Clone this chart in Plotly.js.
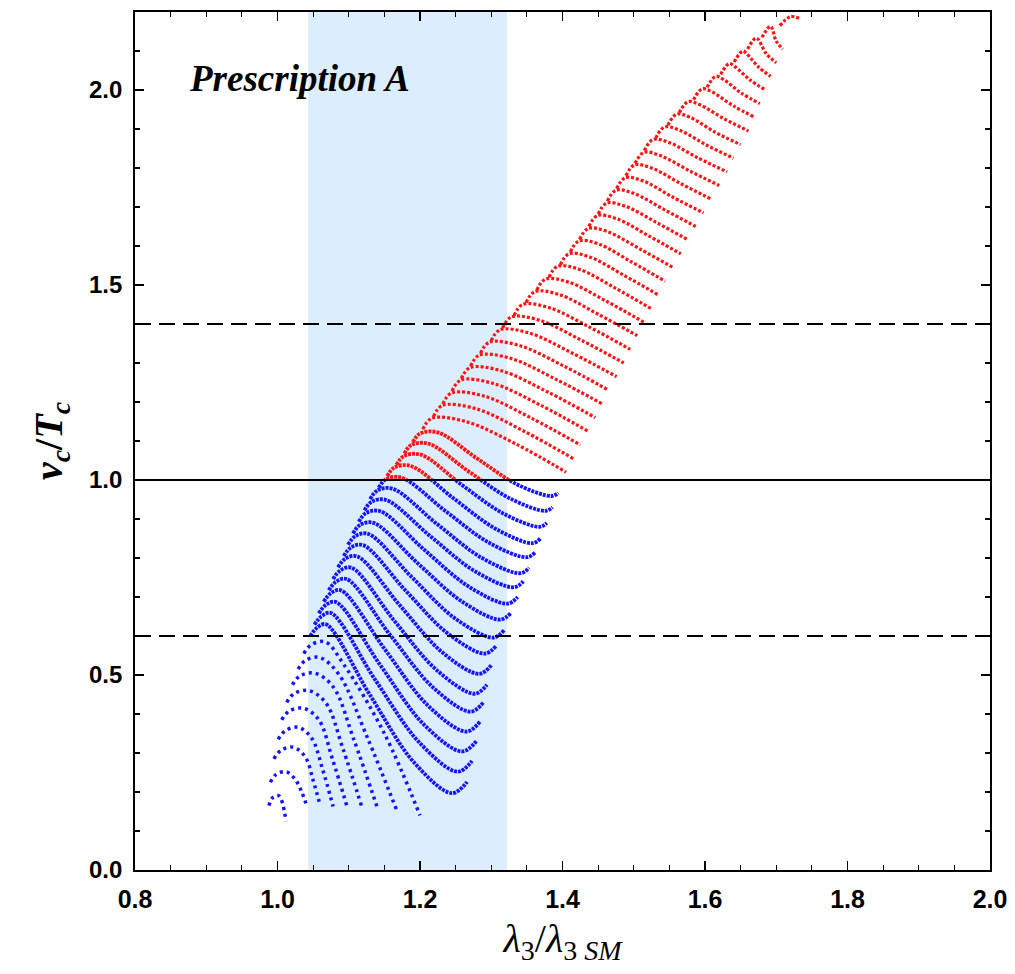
<!DOCTYPE html>
<html>
<head>
<meta charset="utf-8">
<script src="https://cdn.plot.ly/plotly-3.0.1.min.js"></script>
<style>
  html, body { margin: 0; padding: 0; background: #ffffff; }
  #chart { width: 1015px; height: 974px; }
</style>
</head>
<body>
<div id="chart"></div>
<script>
// Axis ticks and labels
const xTickVals = [0.8, 1.0, 1.2, 1.4, 1.6, 1.8, 2.0];
const xTickText = ['0.8', '1.0', '1.2', '1.4', '1.6', '1.8', '2.0'];
const xMinorVals = [0.85, 0.9, 0.95, 1.05, 1.1, 1.15, 1.25, 1.3, 1.35, 1.45, 1.5, 1.55,
                    1.65, 1.7, 1.75, 1.85, 1.9, 1.95];
const yTickVals = [0.0, 0.5, 1.0, 1.5, 2.0];
const yTickText = ['0.0', '0.5', '1.0', '1.5', '2.0'];
const yMinorVals = [0.1, 0.2, 0.3, 0.4, 0.6, 0.7, 0.8, 0.9, 1.1, 1.2, 1.3, 1.4,
                    1.6, 1.7, 1.8, 1.9, 2.1];

// Reference levels and the shaded lambda_3 window
const dashedLevels = [0.6, 1.4];
const solidLevel = 1.0;
const bandX = [1.043, 1.322];

// Scan curves, upper family (start on the left edge, end on the right edge)
const upperX = [
  [1.204, 1.216, 1.264, 1.335, 1.405],
  [1.219, 1.231, 1.278, 1.346, 1.415],
  [1.232, 1.244, 1.290, 1.357, 1.425],
  [1.245, 1.257, 1.302, 1.369, 1.436],
  [1.258, 1.270, 1.314, 1.380, 1.446],
  [1.271, 1.283, 1.327, 1.391, 1.456],
  [1.285, 1.297, 1.339, 1.402, 1.465],
  [1.300, 1.312, 1.353, 1.414, 1.476],
  [1.316, 1.328, 1.367, 1.427, 1.486],
  [1.332, 1.344, 1.381, 1.438, 1.495],
  [1.349, 1.361, 1.396, 1.450, 1.505],
  [1.364, 1.376, 1.409, 1.462, 1.514],
  [1.381, 1.393, 1.424, 1.474, 1.524],
  [1.397, 1.409, 1.438, 1.486, 1.534],
  [1.411, 1.423, 1.451, 1.497, 1.544],
  [1.424, 1.436, 1.463, 1.509, 1.555],
  [1.437, 1.449, 1.476, 1.521, 1.566],
  [1.450, 1.462, 1.488, 1.533, 1.577],
  [1.463, 1.475, 1.500, 1.544, 1.587],
  [1.476, 1.488, 1.513, 1.555, 1.598],
  [1.489, 1.501, 1.525, 1.567, 1.609],
  [1.502, 1.514, 1.537, 1.579, 1.620],
  [1.515, 1.527, 1.550, 1.590, 1.631],
  [1.531, 1.543, 1.564, 1.602, 1.640],
  [1.548, 1.560, 1.579, 1.614, 1.650],
  [1.564, 1.576, 1.593, 1.627, 1.661],
  [1.584, 1.596, 1.610, 1.640, 1.670],
  [1.603, 1.615, 1.626, 1.651, 1.677],
  [1.622, 1.634, 1.642, 1.663, 1.685],
  [1.641, 1.653, 1.659, 1.675, 1.692],
  [1.660, 1.672, 1.686, 1.700],
  [1.680, 1.692, 1.700, 1.709],
  [1.705, 1.720, 1.733]
];
const upperY = [
  [1.130, 1.158, 1.150, 1.092, 1.020],
  [1.163, 1.191, 1.183, 1.125, 1.055],
  [1.195, 1.223, 1.215, 1.158, 1.090],
  [1.228, 1.256, 1.248, 1.192, 1.125],
  [1.260, 1.288, 1.280, 1.225, 1.160],
  [1.292, 1.320, 1.312, 1.258, 1.195],
  [1.325, 1.353, 1.345, 1.292, 1.230],
  [1.357, 1.385, 1.377, 1.325, 1.265],
  [1.390, 1.418, 1.410, 1.358, 1.300],
  [1.422, 1.450, 1.442, 1.392, 1.335],
  [1.455, 1.483, 1.475, 1.425, 1.370],
  [1.487, 1.515, 1.507, 1.458, 1.405],
  [1.520, 1.548, 1.540, 1.492, 1.440],
  [1.552, 1.580, 1.572, 1.525, 1.475],
  [1.585, 1.613, 1.605, 1.559, 1.510],
  [1.617, 1.645, 1.637, 1.592, 1.545],
  [1.650, 1.678, 1.670, 1.626, 1.580],
  [1.682, 1.710, 1.702, 1.659, 1.615],
  [1.715, 1.743, 1.735, 1.692, 1.650],
  [1.747, 1.775, 1.767, 1.725, 1.685],
  [1.780, 1.808, 1.800, 1.759, 1.720],
  [1.812, 1.840, 1.832, 1.792, 1.755],
  [1.845, 1.873, 1.865, 1.826, 1.790],
  [1.877, 1.905, 1.897, 1.859, 1.825],
  [1.910, 1.938, 1.930, 1.892, 1.860],
  [1.942, 1.970, 1.962, 1.926, 1.895],
  [1.975, 2.003, 1.995, 1.959, 1.930],
  [2.007, 2.035, 2.027, 1.992, 1.965],
  [2.040, 2.068, 2.060, 2.026, 2.000],
  [2.072, 2.100, 2.092, 2.059, 2.035],
  [2.105, 2.133, 2.093, 2.070],
  [2.135, 2.163, 2.125, 2.105],
  [2.165, 2.188, 2.183]
];

// Middle family: arches that fall diagonally and finish with a small hook
const hookX = [
  [1.190, 1.200, 1.225, 1.281, 1.337, 1.385, 1.394],
  [1.178, 1.188, 1.212, 1.269, 1.327, 1.376, 1.386],
  [1.167, 1.177, 1.201, 1.259, 1.318, 1.368, 1.378],
  [1.154, 1.164, 1.187, 1.247, 1.307, 1.358, 1.369],
  [1.142, 1.152, 1.174, 1.236, 1.297, 1.350, 1.362],
  [1.130, 1.140, 1.161, 1.224, 1.287, 1.341, 1.353],
  [1.122, 1.132, 1.152, 1.215, 1.278, 1.332, 1.345],
  [1.114, 1.124, 1.144, 1.206, 1.269, 1.323, 1.337],
  [1.106, 1.116, 1.135, 1.197, 1.260, 1.313, 1.328],
  [1.099, 1.109, 1.127, 1.189, 1.250, 1.303, 1.318],
  [1.093, 1.103, 1.120, 1.180, 1.240, 1.291, 1.307],
  [1.085, 1.095, 1.112, 1.172, 1.232, 1.283, 1.300],
  [1.078, 1.088, 1.104, 1.164, 1.225, 1.277, 1.294],
  [1.072, 1.082, 1.097, 1.158, 1.219, 1.271, 1.289],
  [1.065, 1.075, 1.089, 1.151, 1.212, 1.265, 1.284],
  [1.058, 1.068, 1.082, 1.144, 1.206, 1.259, 1.279],
  [1.052, 1.062, 1.075, 1.137, 1.200, 1.253, 1.273],
  [1.046, 1.056, 1.068, 1.130, 1.192, 1.245, 1.266]
];
const hookY = [
  [1.097, 1.119, 1.122, 1.054, 0.988, 0.959, 0.967],
  [1.068, 1.090, 1.093, 1.021, 0.952, 0.921, 0.930],
  [1.039, 1.061, 1.065, 0.987, 0.913, 0.880, 0.890],
  [1.010, 1.032, 1.036, 0.953, 0.874, 0.838, 0.850],
  [0.980, 1.002, 1.006, 0.920, 0.839, 0.802, 0.815],
  [0.951, 0.973, 0.978, 0.887, 0.800, 0.761, 0.775],
  [0.922, 0.944, 0.949, 0.855, 0.765, 0.725, 0.740],
  [0.893, 0.915, 0.920, 0.821, 0.726, 0.683, 0.700],
  [0.863, 0.885, 0.890, 0.786, 0.687, 0.642, 0.660],
  [0.834, 0.856, 0.862, 0.750, 0.644, 0.596, 0.615],
  [0.805, 0.827, 0.833, 0.716, 0.605, 0.555, 0.575],
  [0.776, 0.798, 0.804, 0.678, 0.557, 0.503, 0.525],
  [0.746, 0.768, 0.775, 0.639, 0.510, 0.452, 0.475],
  [0.717, 0.739, 0.746, 0.603, 0.467, 0.406, 0.430],
  [0.688, 0.710, 0.717, 0.565, 0.420, 0.355, 0.380],
  [0.658, 0.680, 0.687, 0.526, 0.372, 0.304, 0.330],
  [0.629, 0.651, 0.659, 0.488, 0.325, 0.252, 0.280],
  [0.600, 0.622, 0.630, 0.448, 0.275, 0.197, 0.226]
];

// Lower family: small arches that drop steeply to the bottom edge
const lowX = [
  [0.988, 0.993, 1.002, 1.012],
  [0.990, 0.998, 1.012, 1.025, 1.034, 1.041],
  [0.995, 1.005, 1.022, 1.039, 1.050, 1.060],
  [1.001, 1.011, 1.029, 1.048, 1.063, 1.078],
  [1.006, 1.016, 1.036, 1.058, 1.077, 1.098],
  [1.013, 1.023, 1.044, 1.068, 1.092, 1.119],
  [1.021, 1.031, 1.052, 1.078, 1.107, 1.141],
  [1.029, 1.039, 1.059, 1.086, 1.126, 1.168],
  [1.037, 1.047, 1.067, 1.093, 1.150, 1.200]
];
const lowY = [
  [0.165, 0.185, 0.190, 0.125],
  [0.225, 0.245, 0.252, 0.232, 0.200, 0.165],
  [0.285, 0.307, 0.315, 0.290, 0.230, 0.165],
  [0.335, 0.357, 0.366, 0.338, 0.260, 0.163],
  [0.385, 0.407, 0.415, 0.385, 0.285, 0.160],
  [0.430, 0.452, 0.460, 0.428, 0.310, 0.158],
  [0.475, 0.497, 0.505, 0.470, 0.335, 0.155],
  [0.515, 0.537, 0.545, 0.502, 0.340, 0.150],
  [0.555, 0.577, 0.585, 0.527, 0.350, 0.140]
];

const BLUE = 'rgb(20,20,255)';
const RED = 'rgb(255,20,20)';
const Y_TOP = 2.2;
const SPLIT = solidLevel / Y_TOP;   // fraction of the height where blue turns red

// Every curve is drawn on two stacked subplots sharing one scale:
// the lower one (y2, 0..1) clips it in blue, the upper one (y3, 1..2.2) in red.
function curveTraces(cx, cy, dash, width) {
  const out = [];
  cx.forEach((xs, i) => {
    const common = { x: xs, y: cy[i], mode: 'lines', hoverinfo: 'skip', xaxis: 'x' };
    out.push(Object.assign({}, common, {
      yaxis: 'y2', line: { shape: 'spline', smoothing: 1, dash: dash, width: width, color: BLUE }
    }));
    out.push(Object.assign({}, common, {
      yaxis: 'y3', line: { shape: 'spline', smoothing: 1, dash: dash, width: width, color: RED }
    }));
  });
  return out;
}

const traces = [{ x: [], y: [], xaxis: 'x', yaxis: 'y', mode: 'markers', hoverinfo: 'skip' }]
  .concat(curveTraces(lowX, lowY, '3px,4px', 3.5))
  .concat(curveTraces(hookX, hookY, '3px,1px', 3.8))
  .concat(curveTraces(upperX, upperY, '3px,2px', 3.2));

const shapes = [
  { type: 'rect', xref: 'x', yref: 'paper', x0: bandX[0], x1: bandX[1], y0: 0, y1: 1,
    fillcolor: 'rgb(220,237,254)', line: { width: 0 }, layer: 'below' }
];
dashedLevels.forEach(v => shapes.push({
  type: 'line', xref: 'paper', x0: 0, x1: 1, yref: 'y', y0: v, y1: v,
  line: { color: '#000', width: 2, dash: '16px,8px' }, layer: 'above'
}));
shapes.push({
  type: 'line', xref: 'paper', x0: 0, x1: 1, yref: 'y', y0: solidLevel, y1: solidLevel,
  line: { color: '#000', width: 2 }, layer: 'above'
});

const axisCommon = {
  ticks: 'inside', ticklen: 9, tickwidth: 1.5, tickcolor: '#000',
  showline: true, linecolor: '#000', linewidth: 1.8, mirror: 'ticks',
  showgrid: false, zeroline: false
};

const layout = {
  width: 1015, height: 974,
  margin: { l: 135, r: 25, t: 12, b: 104 },
  paper_bgcolor: '#ffffff', plot_bgcolor: 'rgba(0,0,0,0)',
  showlegend: false,
  xaxis: Object.assign({}, axisCommon, {
    range: [0.8, 2.0], anchor: 'y', domain: [0, 1],
    tickmode: 'array', tickvals: xTickVals, ticktext: xTickText,
    minor: { tickmode: 'array', tickvals: xMinorVals, ticks: 'inside', ticklen: 5, tickwidth: 1.2, tickcolor: '#000' },
    tickfont: { family: 'Liberation Sans', size: 25, color: '#000', weight: 'bold' },
    ticklabelstandoff: 6,
    title: {
      text: '<i>λ</i><sub>3</sub>/<i>λ</i><sub>3 <i>SM</i></sub>',
      font: { family: 'Liberation Serif', size: 40, color: '#000' },
      standoff: 12
    }
  }),
  yaxis: Object.assign({}, axisCommon, {
    range: [0, Y_TOP], anchor: 'x', domain: [0, 1],
    tickmode: 'array', tickvals: yTickVals, ticktext: yTickText,
    minor: { tickmode: 'array', tickvals: yMinorVals, ticks: 'inside', ticklen: 5, tickwidth: 1.2, tickcolor: '#000' },
    tickfont: { family: 'Liberation Sans', size: 24, color: '#000', weight: 'bold' },
    ticklabelstandoff: 6,
    title: {
      text: '<i>v<sub>c</sub></i>/<i>T<sub>c</sub></i>',
      font: { family: 'Liberation Serif', size: 40, color: '#000', weight: 'bold' },
      standoff: 14
    }
  }),
  yaxis2: { range: [0, solidLevel], domain: [0, SPLIT], anchor: 'x', visible: false, fixedrange: true },
  yaxis3: { range: [solidLevel, Y_TOP], domain: [SPLIT, 1], anchor: 'x', visible: false, fixedrange: true },
  shapes: shapes,
  annotations: [{
    xref: 'x', yref: 'y', x: 0.873, y: 2.03, xanchor: 'left', yanchor: 'middle',
    text: '<i>Prescription A</i>', showarrow: false,
    font: { family: 'Liberation Serif', size: 37, color: '#000', weight: 'bold' }
  }]
};

Plotly.newPlot('chart', traces, layout, { staticPlot: true, displayModeBar: false });
</script>
</body>
</html>
